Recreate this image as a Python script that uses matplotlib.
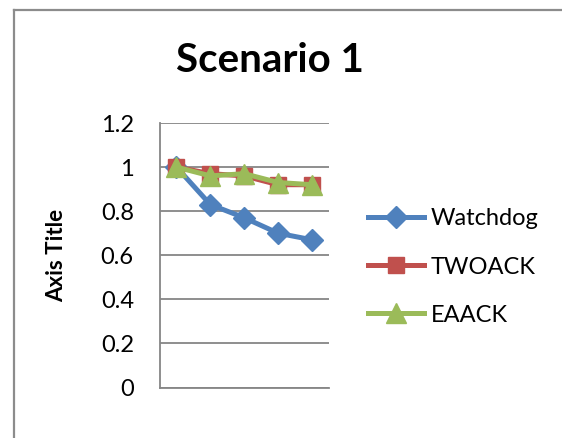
import matplotlib.pyplot as plt
from matplotlib.lines import Line2D

# Data
categories = [1, 2, 3, 4, 5]
watchdog = [1.0, 0.83, 0.77, 0.70, 0.67]
twoack = [1.0, 0.97, 0.96, 0.92, 0.92]
eaack = [1.0, 0.96, 0.97, 0.93, 0.92]
y_ticks = [0, 0.2, 0.4, 0.6, 0.8, 1, 1.2]
y_tick_labels = ["0", "0.2", "0.4", "0.6", "0.8", "1", "1.2"]

W, H = 562, 438
fig = plt.figure(figsize=(W / 100, H / 100), dpi=100)
plt.rcParams['font.family'] = ['Lato', 'DejaVu Sans']

# outer chart border (cut off right and bottom)
frame_col = "#8c8c8c"
fig.add_artist(Line2D([14 / W, 14 / W], [0, 1 - 9.5 / H], transform=fig.transFigure, color=frame_col, lw=1.6))
fig.add_artist(Line2D([14 / W, 1], [1 - 9.5 / H, 1 - 9.5 / H], transform=fig.transFigure, color=frame_col, lw=1.6))

# plot area
left, right = 159.5, 329
top, bottom = 123, 387.5
ax = fig.add_axes([left / W, 1 - bottom / H, (right - left) / W, (bottom - top) / H])

ax.plot(categories, watchdog, color="#4F81BD", lw=3.6, marker="D", ms=11, label="Watchdog")
ax.plot(categories, twoack, color="#C0504D", lw=3.6, marker="s", ms=12, label="TWOACK")
ax.plot(categories, eaack, color="#9BBB59", lw=3.6, marker="^", ms=14, label="EAACK")

ax.set_xlim(0.5, 5.5)
ax.set_ylim(0, 1.2)
ax.set_yticks(y_ticks)
ax.set_yticklabels(y_tick_labels)
ax.set_xticks([])
ax.yaxis.grid(True, color="#868686", lw=1.3)
ax.set_axisbelow(True)
for s in ["top", "right"]:
    ax.spines[s].set_visible(False)
for s in ["left", "bottom"]:
    ax.spines[s].set_color("#868686")
    ax.spines[s].set_linewidth(1.3)
ax.tick_params(axis="y", length=0, pad=18.5, labelsize=17)

ax.set_ylabel("Axis Title", fontsize=16, fontweight="bold")
ax.yaxis.set_label_coords((67 - left) / (right - left), 0.5)
fig.text(270 / W, 1 - 61 / H, "Scenario 1", ha="center", va="center", fontsize=29, fontweight="bold")

leg = fig.legend(loc="center left", bbox_to_anchor=(347 / W, 1 - 267 / H), frameon=False,
                 fontsize=17, handlelength=2.35, handletextpad=0.3, labelspacing=1.15)

plt.savefig("out.png", dpi=100)
